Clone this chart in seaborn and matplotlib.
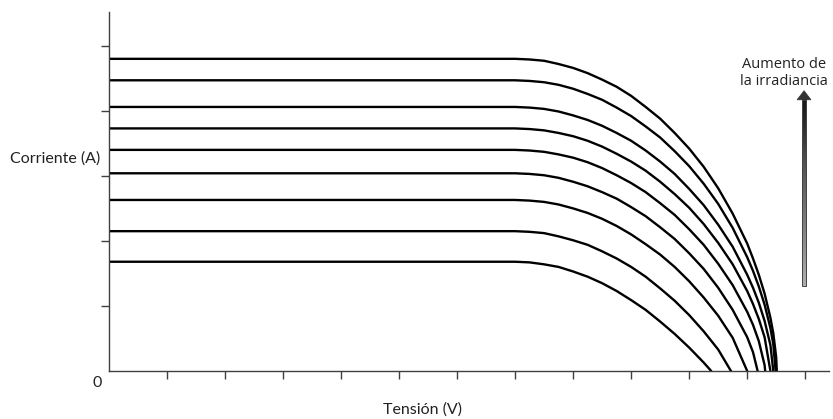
"""
    Curvas I-V de un panel para distintos niveles de irradiancia.
"""

import numpy as np
import pandas as pd
import seaborn as sns
import matplotlib.pyplot as plt
from matplotlib.patches import Rectangle, Polygon

#puntos de tension (V) donde se leyeron las curvas
tension = [7, 7.25, 7.5, 7.75, 8, 8.25, 8.5, 8.75, 9, 9.25, 9.5, 9.75, 10, 10.25, 10.5, 10.75, 11, 11.1, 11.2, 11.3, 11.4, 11.45, 11.5]

#corriente de cortocircuito y tension de circuito abierto de cada curva (de abajo a arriba)
isc = [1.68, 2.15, 2.63, 3.04, 3.40, 3.73, 4.06, 4.47, 4.80]
voc = [10.38, 10.72, 11.00, 11.18, 11.31, 11.40, 11.45, 11.49, 11.51]

#corriente (A) en cada punto de tension, hasta llegar a voc
corriente_1 = [1.68, 1.67, 1.64, 1.60, 1.53, 1.45, 1.35, 1.23, 1.09, 0.94, 0.76, 0.57, 0.36, 0.13]
corriente_2 = [2.15, 2.14, 2.12, 2.07, 2.01, 1.94, 1.84, 1.73, 1.60, 1.45, 1.27, 1.08, 0.86, 0.61, 0.33]
corriente_3 = [2.63, 2.62, 2.60, 2.56, 2.50, 2.43, 2.34, 2.23, 2.10, 1.95, 1.79, 1.60, 1.38, 1.13, 0.85, 0.51]
corriente_4 = [3.04, 3.03, 3.01, 2.97, 2.91, 2.84, 2.75, 2.65, 2.52, 2.38, 2.21, 2.03, 1.81, 1.57, 1.28, 0.94, 0.52, 0.29]
corriente_5 = [3.40, 3.39, 3.37, 3.33, 3.28, 3.21, 3.12, 3.01, 2.89, 2.75, 2.58, 2.40, 2.18, 1.94, 1.65, 1.32, 0.91, 0.71, 0.46, 0.09]
corriente_6 = [3.73, 3.72, 3.70, 3.66, 3.61, 3.54, 3.45, 3.34, 3.22, 3.08, 2.91, 2.72, 2.51, 2.26, 1.97, 1.64, 1.23, 1.03, 0.80, 0.52]
corriente_7 = [4.06, 4.05, 4.03, 3.99, 3.93, 3.86, 3.77, 3.66, 3.54, 3.39, 3.22, 3.03, 2.80, 2.55, 2.25, 1.91, 1.48, 1.28, 1.05, 0.77, 0.40]
corriente_8 = [4.47, 4.46, 4.44, 4.40, 4.34, 4.26, 4.17, 4.05, 3.92, 3.76, 3.59, 3.38, 3.15, 2.88, 2.57, 2.20, 1.75, 1.54, 1.30, 1.02, 0.66, 0.41]
corriente_9 = [4.80, 4.79, 4.77, 4.72, 4.66, 4.58, 4.48, 4.37, 4.23, 4.06, 3.88, 3.66, 3.42, 3.14, 2.81, 2.42, 1.96, 1.73, 1.48, 1.19, 0.82, 0.58, 0.21]

curvas = [corriente_1, corriente_2, corriente_3, corriente_4, corriente_5,
          corriente_6, corriente_7, corriente_8, corriente_9]

#tabla larga para seaborn
filas = []
for n, vals in enumerate(curvas):
    filas.append((n, 0, isc[n]))
    for v, i in zip(tension, vals):
        filas.append((n, v, i))
    filas.append((n, voc[n], 0))
df = pd.DataFrame(filas, columns=['curva', 'V', 'I'])

sns.set_style('white')
plt.rcParams['font.family'] = ['Lato', 'DejaVu Sans']

fig = plt.figure(figsize=(8.33, 4.19), dpi=100)
ax = fig.add_axes([109/833, 1 - 371/419, 720/833, 359/419])

sns.lineplot(data=df, x='V', y='I', units='curva', estimator=None, sort=False,
             color='black', linewidth=1.7, ax=ax)

#flecha con degradado (oscura arriba, clara abajo)
x0, x1 = 11.94, 12.02
y0, y1 = 1.30, 4.17
grad = np.linspace(0.92, 0.42, 100).reshape(-1, 1)
ax.imshow(grad, extent=[x0, x1, y0, y1], aspect='auto', cmap='Greys',
          vmin=0, vmax=1, origin='upper', zorder=3)
ax.add_patch(Rectangle((x0, y0), x1 - x0, y1 - y0, fill=False, edgecolor='#444444', lw=0.7, zorder=4))
ax.add_patch(Polygon([[11.86, y1], [12.10, y1], [11.98, 4.31]], closed=True,
                     facecolor='#333333', edgecolor='#333333', lw=0.5, zorder=4))
ax.text(11.64, 4.58, 'Aumento de\nla irradiancia', ha='center', va='center',
        fontsize=10.5, linespacing=1.2, family=['Open Sans', 'DejaVu Sans'], color='#222222')

ax.set_xlim(0, 12.41)
ax.set_ylim(0, 5.52)
ax.set_xticks(range(1, 13))
ax.set_yticks(range(1, 6))
ax.set_xticklabels([])
ax.set_yticklabels([])
ax.tick_params(axis='both', direction='out', length=6, width=1, color='#404040',
               bottom=True, left=True)
ax.set_xlabel('')
ax.set_ylabel('')
sns.despine(ax=ax)
for s in ['left', 'bottom']:
    ax.spines[s].set_color('#404040')
    ax.spines[s].set_linewidth(1.0)

ax.text(-0.2, -0.18, '0', ha='center', va='center', fontsize=11.5, color='#222222', clip_on=False)
ax.text(-0.0125, 0.593, 'Corriente (A)', transform=ax.transAxes, ha='right', va='center',
        fontsize=11.5, color='#222222')
ax.text(5.41, -0.6, 'Tensión (V)', ha='center', va='center', fontsize=11.5,
        color='#222222', clip_on=False)

plt.savefig('out.png', dpi=100)
